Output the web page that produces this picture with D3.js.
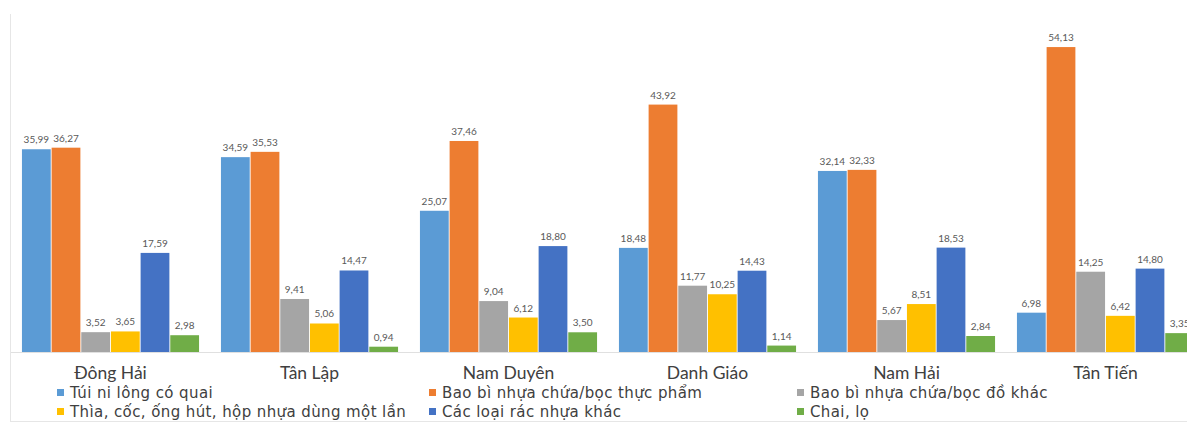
<!DOCTYPE html>
<html>
<head>
<meta charset="utf-8">
<script src="https://cdn.jsdelivr.net/npm/d3@7"></script>
<style>
  html, body { margin: 0; padding: 0; background: #fff; }
  svg { display: block; font-family: Lato, "Liberation Sans", sans-serif; }
</style>
</head>
<body>
<svg id="chart" width="1187" height="425"></svg>
<script>
// Communes (x-axis categories)
const communes = ["Đông Hải", "Tân Lập", "Nam Duyên", "Danh Giáo", "Nam Hải", "Tân Tiến"];

// Waste types (series)
const seriesNames = [
  "Túi ni lông có quai",
  "Bao bì nhựa chứa/bọc thực phẩm",
  "Bao bì nhựa chứa/bọc đồ khác",
  "Thìa, cốc, ống hút, hộp nhựa dùng một lần",
  "Các loại rác nhựa khác",
  "Chai, lọ"
];
const seriesColors = ["#5B9BD5", "#ED7D31", "#A5A5A5", "#FFC000", "#4472C4", "#70AD47"];

// Share (%) of each waste type, one array per series, ordered as communes
const tuiNiLong     = [35.99, 34.59, 25.07, 18.48, 32.14, 6.98];
const baoBiThucPham = [36.27, 35.53, 37.46, 43.92, 32.33, 54.13];
const baoBiDoKhac   = [3.52, 9.41, 9.04, 11.77, 5.67, 14.25];
const dungMotLan    = [3.65, 5.06, 6.12, 10.25, 8.51, 6.42];
const racNhuaKhac   = [17.59, 14.47, 18.80, 14.43, 18.53, 14.80];
const chaiLo        = [2.98, 0.94, 3.50, 1.14, 2.84, 3.35];

const seriesValues = [tuiNiLong, baoBiThucPham, baoBiDoKhac, dungMotLan, racNhuaKhac, chaiLo];

const svg = d3.select("#chart");

const baseY = 352;
const x0 = d3.scaleBand().domain(communes).range([11, 1205])
  .paddingInner(0.11).paddingOuter(0.055);
const x1 = d3.scaleBand().domain(d3.range(seriesNames.length))
  .range([0, x0.bandwidth()]).paddingInner(0.03);
const y = d3.scaleLinear().domain([0, 60]).range([baseY, 14]);

const fmt = v => d3.format(".2f")(v).replace(".", ",");

// chart frame (left and bottom edges)
svg.append("line").attr("x1", 10.5).attr("x2", 10.5).attr("y1", 14).attr("y2", 422)
  .attr("stroke", "#e6e6e6").attr("stroke-width", 1);
svg.append("line").attr("x1", 10).attr("x2", 1187).attr("y1", 421.5).attr("y2", 421.5)
  .attr("stroke", "#e6e6e6").attr("stroke-width", 1);

// category axis baseline
svg.append("line").attr("x1", 11).attr("x2", 1187).attr("y1", baseY + 0.5).attr("y2", baseY + 0.5)
  .attr("stroke", "#e0e0e0");

const groups = svg.selectAll("g.commune")
  .data(communes)
  .join("g")
  .attr("class", "commune")
  .attr("transform", d => `translate(${x0(d)},0)`);

groups.selectAll("rect")
  .data((c, ci) => seriesValues.map((vals, si) => ({ si, v: vals[ci] })))
  .join("rect")
  .attr("x", d => x1(d.si))
  .attr("y", d => y(d.v))
  .attr("width", x1.bandwidth())
  .attr("height", d => baseY - y(d.v))
  .attr("fill", d => seriesColors[d.si]);

groups.selectAll("text.val")
  .data((c, ci) => seriesValues.map((vals, si) => ({ si, v: vals[ci] })))
  .join("text")
  .attr("class", "val")
  .attr("x", d => x1(d.si) + x1.bandwidth() / 2)
  .attr("y", d => y(d.v) - 6)
  .attr("text-anchor", "middle")
  .attr("font-size", 10)
  .attr("fill", "#595959")
  .text(d => fmt(d.v));

// category labels
const xAxis = d3.axisBottom(x0).tickSize(0).tickPadding(0);
const axisG = svg.append("g").attr("transform", `translate(0,${baseY})`).call(xAxis);
axisG.select(".domain").remove();
axisG.selectAll("text")
  .attr("dy", 0)
  .attr("y", 27)
  .attr("font-size", 17.5)
  .attr("font-family", "Lato, 'Liberation Sans', sans-serif")
  .attr("fill", "#404040");

// legend: two rows of three
const legendCols = [57, 429, 797];
const legendRows = [393, 412];
const legend = svg.append("g")
  .selectAll("g")
  .data(seriesNames)
  .join("g")
  .attr("transform", (d, i) => `translate(${legendCols[i % 3]},${legendRows[Math.floor(i / 3)]})`);
legend.append("rect")
  .attr("x", 0).attr("y", -4).attr("width", 7).attr("height", 7)
  .attr("fill", (d, i) => seriesColors[i]);
legend.append("text")
  .attr("x", 13).attr("y", 5)
  .attr("font-size", 15)
  .attr("letter-spacing", 0.4)
  .attr("font-family", "'DejaVu Sans', sans-serif")
  .attr("fill", "#404040")
  .text(d => d);
</script>
</body>
</html>
